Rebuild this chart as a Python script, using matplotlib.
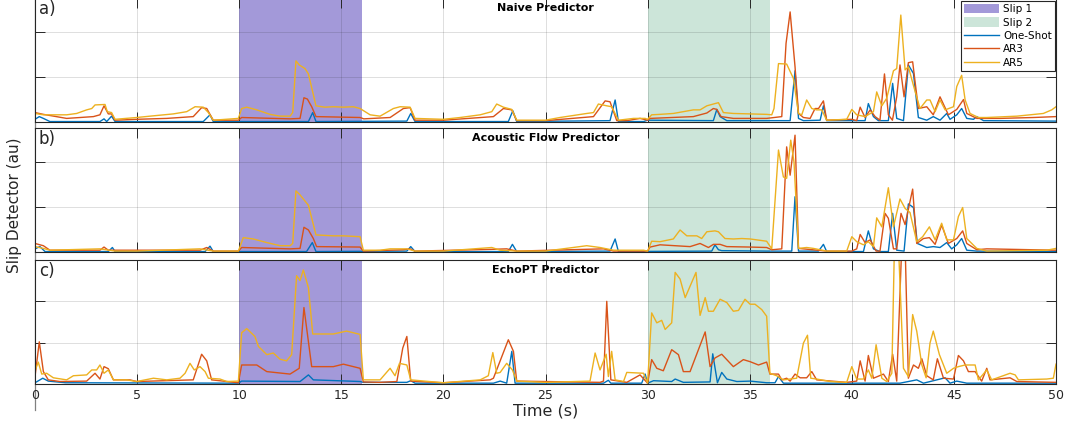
import numpy as np
import matplotlib.pyplot as plt
from matplotlib.patches import Patch

# ======================================
# DATA  (time in s, detector value in au)
# ======================================

# slip windows (s)
slip1 = (10, 16)
slip2 = (30, 36)

panel_labels = ["a)", "b)", "c)"]
panel_titles = ["Naive Predictor", "Acoustic Flow Predictor", "EchoPT Predictor"]
series_names = ["One-Shot", "AR3", "AR5"]

# --- a) Naive predictor ---
naive_oneshot = [(0, .06), (.21, .12), (.41, .08), (.73, .01), (3.18, .01), (3.38, .07), (3.51, .01),
                 (3.75, .13), (3.92, .01), (8.24, .01), (8.57, .16), (8.73, .01), (13.39, .01),
                 (13.60, .21), (13.76, .01), (18.21, .02), (18.40, .19), (18.61, .01), (23.18, .01),
                 (23.40, .25), (23.59, .01), (28.16, .03), (28.41, .49), (28.57, .01), (29.80, .01),
                 (30.0, .04), (33.22, .03), (33.39, .28), (33.55, .12), (33.88, .03), (36.98, .03),
                 (37.22, 1.14), (37.39, .08), (37.63, .03), (38.45, .04), (38.61, .36), (38.77, .03),
                 (40.65, .03), (40.81, .41), (41.06, .12), (41.30, .03), (41.79, .03), (42.0, .86),
                 (42.2, .08), (42.53, .03), (42.77, 1.27), (43.02, 1.08), (43.26, .10), (43.67, .04),
                 (43.99, .12), (44.32, .04), (44.65, .19), (44.81, .06), (45.14, .16), (45.38, .30),
                 (45.63, .08), (45.96, .06), (46.12, .12), (46.45, .03), (50.0, .02)]
naive_ar3 = [(0, .21), (.41, .17), (1.55, .08), (2.86, .12), (3.18, .16), (3.38, .36), (3.59, .18),
             (3.75, .18), (3.92, .04), (4.98, .06), (6.45, .08), (7.75, .12), (8.16, .32), (8.41, .30),
             (8.73, .04), (9.96, .04), (10.12, .10), (12.49, .07), (12.98, .08), (13.17, .54),
             (13.34, .51), (13.55, .34), (13.76, .12), (15.92, .10), (16.1, .07), (17.39, .10),
             (18.04, .30), (18.37, .32), (18.61, .04), (20.0, .04), (22.45, .12), (22.94, .30),
             (23.35, .27), (23.59, .03), (25.0, .03), (27.35, .12), (27.92, .47), (28.16, .45),
             (28.49, .03), (28.98, .03), (29.63, .08), (30.0, .04), (30.12, .08), (32.24, .12),
             (32.9, .20), (33.22, .30), (33.39, .28), (33.6, .12), (34.2, .08), (35.83, .08),
             (36.57, .12), (36.78, 1.75), (36.98, 2.45), (37.22, 1.23), (37.39, .19), (37.63, .10),
             (37.96, .08), (38.2, .30), (38.37, .30), (38.61, .47), (38.77, .04), (40.0, .06),
             (40.24, .03), (40.41, .33), (40.65, .10), (40.9, .27), (41.14, .12), (41.38, .04),
             (41.6, 1.07), (41.79, .16), (41.99, .04), (42.2, .56), (42.36, 1.27), (42.56, .56),
             (42.77, 1.32), (42.98, 1.34), (43.26, .30), (43.67, .34), (43.99, .16), (44.32, .56),
             (44.73, .16), (45.14, .28), (45.47, .50), (45.63, .19), (46.12, .08), (47.26, .08),
             (48.89, .10), (50.0, .12)]
naive_ar5 = [(0, .19), (.41, .16), (1.55, .16), (2.04, .19), (2.53, .27), (2.78, .30), (2.94, .38),
             (3.43, .39), (3.54, .23), (3.75, .21), (3.92, .06), (4.98, .10), (5.63, .13), (6.77, .18),
             (7.43, .23), (7.84, .34), (8.24, .33), (8.49, .21), (8.73, .04), (9.96, .08), (10.12, .30),
             (10.37, .33), (10.86, .27), (11.51, .17), (12.0, .13), (12.49, .13), (12.62, .21),
             (12.78, 1.36), (12.94, 1.27), (13.22, 1.19), (13.39, 1.07), (13.76, .36), (14.2, .33),
             (14.61, .34), (15.10, .33), (15.59, .34), (15.92, .30), (16.41, .16), (16.90, .13),
             (17.55, .30), (17.88, .34), (18.37, .33), (18.61, .08), (20.0, .06), (20.82, .10),
             (21.80, .16), (22.37, .23), (22.61, .40), (22.94, .33), (23.35, .28), (23.59, .04),
             (25.0, .04), (25.71, .10), (27.02, .19), (27.35, .21), (27.59, .40), (28.0, .36),
             (28.24, .34), (28.57, .04), (29.31, .08), (29.88, .08), (30.0, .06), (30.20, .16),
             (30.61, .17), (31.26, .19), (32.24, .27), (32.57, .27), (32.9, .36), (33.3, .41),
             (33.47, .43), (33.71, .21), (34.2, .19), (35.02, .18), (35.83, .17), (36.08, .16),
             (36.19, .30), (36.41, 1.30), (36.81, 1.29), (37.14, .97), (37.39, .19), (37.55, .16),
             (37.79, .49), (38.04, .30), (38.28, .27), (38.53, .27), (38.77, .04), (39.75, .06),
             (40.0, .28), (40.24, .16), (40.65, .12), (41.06, .23), (41.22, .67), (41.47, .36),
             (41.71, .53), (42.04, 1.14), (42.2, 1.19), (42.40, 2.38), (42.61, 1.16), (42.77, 1.23),
             (43.02, .81), (43.34, .30), (43.67, .49), (43.83, .49), (44.08, .23), (44.32, .49),
             (44.57, .27), (44.98, .34), (45.14, .79), (45.38, 1.04), (45.55, .49), (45.79, .19),
             (46.20, .10), (46.61, .10), (48.08, .13), (49.38, .19), (49.79, .27), (50.0, .34)]

# --- b) Acoustic flow predictor ---
flow_oneshot = [(0, .07), (.24, .12), (.49, .01), (3.59, .01), (3.79, .10), (3.92, .01), (8.33, .01),
                (8.57, .13), (8.73, .01), (13.30, .01), (13.58, .21), (13.76, .01), (18.21, .02),
                (18.40, .12), (18.61, .01), (23.18, .01), (23.38, .17), (23.59, .01), (28.16, .02),
                (28.41, .29), (28.57, .01), (33.14, .02), (33.3, .16), (33.47, .05), (33.63, .03),
                (35.83, .02), (37.06, .02), (37.22, 1.23), (37.39, .02), (38.37, .02), (38.61, .17),
                (38.77, .01), (40.57, .01), (40.81, .47), (41.06, .07), (41.38, .01), (41.79, .01),
                (42.0, .86), (42.2, .04), (42.56, .02), (42.77, 1.07), (43.02, .99), (43.21, .19),
                (43.67, .10), (43.99, .12), (44.32, .10), (44.65, .21), (44.89, .07), (45.14, .16),
                (45.38, .30), (45.63, .04), (46.12, .02), (50.0, .01)]
flow_ar3 = [(0, .19), (.41, .14), (.73, .04), (3.18, .04), (3.38, .11), (3.59, .04), (8.08, .04),
            (8.41, .10), (8.73, .02), (9.96, .02), (10.12, .10), (12.49, .07), (12.98, .08),
            (13.17, .55), (13.39, .49), (13.63, .30), (13.79, .12), (15.92, .11), (16.08, .02),
            (18.04, .05), (18.37, .07), (18.61, .02), (22.45, .06), (23.10, .07), (23.59, .02),
            (27.84, .07), (28.33, .02), (30.0, .02), (30.12, .11), (30.61, .16), (32.08, .12),
            (32.57, .19), (32.98, .10), (33.22, .17), (33.55, .17), (33.88, .12), (35.02, .11),
            (35.83, .10), (36.08, .05), (36.57, .07), (36.81, 2.34), (36.98, 1.71), (37.22, 2.6),
            (37.39, .08), (38.77, .02), (40.0, .02), (40.24, .07), (40.41, .39), (40.65, .21),
            (40.90, .27), (41.19, .02), (41.38, .02), (41.63, .86), (41.79, .75), (42.04, .07),
            (42.20, .07), (42.41, .86), (42.61, .61), (42.98, 1.40), (43.18, .19), (43.51, .30),
            (43.80, .32), (44.08, .17), (44.40, .60), (44.73, .19), (45.14, .30), (45.43, .47),
            (45.63, .19), (46.12, .05), (46.61, .07), (50.0, .04)]
flow_ar5 = [(0, .12), (.41, .08), (.73, .04), (3.18, .07), (3.92, .02), (4.98, .02), (8.08, .07),
            (8.73, .02), (9.96, .02), (10.20, .32), (10.69, .29), (11.35, .21), (12.0, .14),
            (12.49, .14), (12.62, .19), (12.78, 1.36), (12.98, 1.27), (13.39, 1.04), (13.76, .38),
            (14.61, .36), (15.10, .36), (15.92, .34), (16.08, .04), (16.90, .04), (17.39, .07),
            (18.21, .07), (18.61, .02), (20.0, .02), (22.37, .10), (22.78, .04), (23.59, .02),
            (25.0, .02), (27.02, .14), (27.67, .10), (28.33, .04), (29.80, .04), (30.0, .02),
            (30.20, .24), (30.61, .23), (31.26, .29), (31.59, .49), (31.92, .36), (32.41, .36),
            (32.65, .30), (32.90, .45), (33.30, .47), (33.47, .45), (33.79, .30), (34.20, .29),
            (34.61, .30), (35.02, .29), (35.83, .24), (36.08, .07), (36.41, 2.27), (36.65, 1.67),
            (36.81, 1.64), (37.01, 2.49), (37.17, 2.0), (37.39, .08), (37.79, .10), (38.12, .08),
            (38.77, .02), (39.75, .02), (40.0, .34), (40.24, .23), (40.57, .16), (40.81, .23),
            (41.06, .12), (41.22, .76), (41.47, .56), (41.79, 1.43), (42.04, .56), (42.36, 1.18),
            (42.61, .97), (42.85, .88), (43.18, .23), (43.47, .34), (43.80, .56), (44.08, .27),
            (44.40, .64), (44.65, .27), (44.98, .27), (45.22, .79), (45.43, .99), (45.63, .30),
            (46.12, .08), (46.61, .02), (49.55, .04), (50.0, .08)]

# --- c) EchoPT predictor ---
echo_oneshot = [(0, .03), (.38, .14), (.65, .07), (1.5, .03), (9.96, .02), (10.12, .07), (12.98, .06),
                (13.39, .22), (13.63, .10), (15.92, .06), (16.08, .04), (18.21, .04), (18.40, .08),
                (18.61, .02), (22.45, .02), (22.78, .07), (23.10, .02), (23.35, .79), (23.51, .02),
                (27.84, .02), (28.08, .09), (28.20, .02), (29.71, .02), (29.88, .24), (30.0, .02),
                (30.29, .08), (31.18, .06), (31.35, .12), (31.75, .04), (33.06, .05), (33.19, .73),
                (33.42, .03), (33.63, .28), (33.88, .12), (34.37, .06), (35.02, .07), (35.83, .03),
                (36.24, .03), (36.41, .18), (36.65, .02), (42.36, .02), (43.18, .10), (43.51, .02),
                (44.57, .15), (44.81, .02), (45.14, .07), (45.63, .02), (50.0, .02)]
echo_ar3 = [(0, .18), (.21, 1.02), (.41, .30), (.65, .10), (1.22, .06), (2.53, .07), (2.94, .26),
            (3.18, .12), (3.38, .42), (3.59, .37), (3.84, .10), (4.65, .10), (4.98, .06), (7.75, .10),
            (8.16, .72), (8.41, .56), (8.65, .10), (9.96, .03), (10.12, .46), (10.86, .46),
            (11.35, .30), (12.49, .24), (12.94, .38), (13.17, 1.85), (13.55, .42), (14.61, .42),
            (15.10, .48), (15.92, .38), (16.08, .05), (16.90, .04), (17.72, .06), (18.01, .87),
            (18.21, 1.15), (18.40, .07), (20.0, .03), (22.29, .10), (22.45, .14), (23.18, 1.07),
            (23.43, .79), (23.59, .07), (27.67, .04), (27.84, .07), (28.0, 2.0), (28.20, .10),
            (28.98, .04), (29.63, .22), (30.0, .02), (30.20, .59), (30.45, .38), (30.77, .32),
            (31.18, .83), (31.51, .71), (31.75, .30), (32.08, .30), (32.82, 1.26), (33.06, .42),
            (33.30, .63), (33.63, .72), (34.20, .42), (34.69, .59), (35.02, .54), (35.43, .46),
            (35.83, .53), (35.99, .24), (36.41, .24), (36.57, .10), (36.81, .14), (36.98, .07),
            (37.22, .24), (37.47, .15), (37.79, .15), (38.04, .30), (38.28, .10), (39.75, .04),
            (40.24, .07), (40.41, .56), (40.65, .07), (40.81, .69), (41.06, .14), (41.55, .24),
            (41.79, .06), (42.0, .72), (42.2, .07), (42.45, 3.4), (42.61, 3.4), (42.77, .14),
            (43.02, .46), (43.26, .38), (43.43, .61), (43.67, .20), (43.99, .10), (44.19, .61),
            (44.49, .14), (44.98, .12), (45.22, .69), (45.47, .56), (45.71, .30), (46.04, .30),
            (46.36, .07), (46.61, .38), (46.77, .10), (47.75, .15), (48.08, .06), (50.0, .04)]
echo_ar5 = [(0, .32), (.16, .53), (.33, .24), (.57, .26), (.90, .15), (1.55, .10), (1.88, .20),
            (2.53, .22), (2.78, .34), (3.02, .34), (3.18, .46), (3.38, .26), (3.59, .34), (3.84, .10),
            (4.49, .10), (4.98, .06), (5.80, .14), (6.45, .10), (7.10, .14), (7.35, .26), (7.59, .50),
            (7.80, .34), (8.08, .42), (8.33, .30), (8.49, .14), (9.06, .12), (9.39, .06), (9.96, .07),
            (10.12, 1.24), (10.37, 1.34), (10.77, 1.15), (10.94, .91), (11.35, .71), (11.67, .75),
            (12.0, .60), (12.32, .56), (12.57, .71), (12.81, 2.62), (12.98, 2.50), (13.14, 2.76),
            (13.39, 2.33), (13.60, 1.21), (14.61, 1.21), (15.26, 1.28), (15.59, 1.24), (15.92, 1.20),
            (16.08, .10), (16.90, .10), (17.39, .38), (17.63, .20), (17.85, .50), (18.21, .46),
            (18.40, .10), (20.0, .03), (21.80, .10), (22.20, .20), (22.42, .76), (22.61, .26),
            (22.78, .28), (23.10, .50), (23.38, .34), (23.59, .07), (25.0, .04), (27.18, .07),
            (27.43, .75), (27.67, .34), (27.97, .72), (28.08, .18), (28.24, .79), (28.41, .10),
            (28.82, .06), (28.98, .28), (29.80, .26), (30.0, .02), (30.20, 1.72), (30.45, 1.48),
            (30.69, 1.54), (30.86, 1.32), (31.18, 1.48), (31.35, 2.70), (31.59, 2.54), (31.84, 2.09),
            (32.37, 2.70), (32.57, 1.66), (32.82, 2.09), (32.98, 1.76), (33.22, 1.76), (33.55, 2.05),
            (33.88, 1.97), (34.20, 1.76), (34.45, 1.78), (34.77, 2.05), (35.02, 1.93), (35.26, 1.93),
            (35.59, 1.80), (35.83, 1.64), (35.99, .26), (36.32, .20), (36.65, .10), (36.98, .12),
            (37.30, .14), (37.63, .99), (37.83, 1.18), (37.99, .14), (38.28, .12), (38.94, .06),
            (39.75, .04), (40.0, .42), (40.24, .12), (40.57, .12), (40.81, .34), (40.98, .14),
            (41.19, .95), (41.47, .14), (41.71, .06), (41.96, .26), (42.09, 3.4), (42.28, 3.4),
            (42.53, .38), (42.77, .18), (42.98, 1.68), (43.18, 1.28), (43.43, .46), (43.64, .15),
            (43.83, .99), (43.99, 1.28), (44.29, .71), (44.65, .26), (44.98, .38), (45.22, .42),
            (45.55, .46), (46.04, .46), (46.20, .10), (46.61, .34), (46.85, .10), (47.75, .26),
            (48.0, .22), (48.16, .10), (49.55, .12), (49.87, .14), (50.0, .48)]

panels = [(naive_oneshot, naive_ar3, naive_ar5),
          (flow_oneshot, flow_ar3, flow_ar5),
          (echo_oneshot, echo_ar3, echo_ar5)]
ymax = [2.76, 2.76, 3.0]

# ======================================
# STYLE
# ======================================

line_colors = ["#0072BD", "#D95319", "#EDB120"]
slip1_color = "#A399D9"
slip2_color = "#CCE5D9"
ink = "#262626"

W, H = 1068, 425
left, right = 35, 1056
tops = [-2, 128, 260]
bottoms = [122, 252, 384]


def rect(top, bottom):
    return [left / W, 1 - bottom / H, (right - left) / W, (bottom - top) / H]


fig = plt.figure(figsize=(W / 100, H / 100), dpi=100)

# background axes carrying the shared y label and the long left rule
bg = fig.add_axes(rect(-2, 410))
bg.set_facecolor("none")
for side in ["top", "right", "bottom"]:
    bg.spines[side].set_visible(False)
bg.spines["left"].set_color("#808080")
bg.spines["left"].set_linewidth(0.9)
bg.set_xticks([])
bg.set_yticks([])
fig.text(15 / W, 1 - 205 / H, "Slip Detector (au)", rotation=90, ha="center", va="center",
         fontsize=11, color=ink)

axes = []
for i in range(3):
    ax = fig.add_axes(rect(tops[i], bottoms[i]))
    h1 = ax.axvspan(*slip1, color=slip1_color, lw=0, label="Slip 1")
    h2 = ax.axvspan(*slip2, color=slip2_color, lw=0, label="Slip 2")
    handles = [h1, h2]
    for series, name, c in zip(panels[i], series_names, line_colors):
        t, v = np.array(series).T
        ln, = ax.plot(t, v, color=c, lw=1.0, label=name)
        handles.append(ln)

    ax.set_xlim(0, 50)
    ax.set_ylim(0, ymax[i])
    ax.set_xticks(np.arange(0, 51, 5))
    ax.set_yticks([0, 1, 2])
    ax.grid(True, color=ink, alpha=0.15, lw=0.7)
    ax.tick_params(direction="in", top=True, right=True, length=7, width=0.7, color=ink,
                   labelcolor=ink, labelsize=9, labelleft=False, pad=3.5)
    for sp in ax.spines.values():
        sp.set_color(ink)
        sp.set_linewidth(0.8)

    h_px = bottoms[i] - tops[i]
    ax.text(4 / (right - left), 1 - 11 / h_px, panel_labels[i], transform=ax.transAxes,
            ha="left", va="center", fontsize=12, color=ink)
    ax.text(0.5, 1 - 10 / h_px, panel_titles[i], transform=ax.transAxes,
            ha="center", va="center", fontsize=8, fontweight="bold", color="black")

    if i < 2:
        ax.tick_params(labelbottom=False)
    else:
        ax.set_xlabel("Time (s)", fontsize=11.5, color=ink, labelpad=1.5)
    axes.append((ax, handles))

ax0, handles0 = axes[0]
leg = ax0.legend(handles=handles0, loc="upper right",
                 bbox_to_anchor=(1055 / W, 1 - 1 / H), bbox_transform=fig.transFigure,
                 fontsize=7.5, frameon=True, fancybox=False, framealpha=1,
                 edgecolor=ink, handlelength=3.4, handleheight=1.0, handletextpad=0.35,
                 labelspacing=0.3, borderpad=0.3, borderaxespad=0)
leg.get_frame().set_linewidth(0.8)

fig.savefig("out.png", dpi=100)
